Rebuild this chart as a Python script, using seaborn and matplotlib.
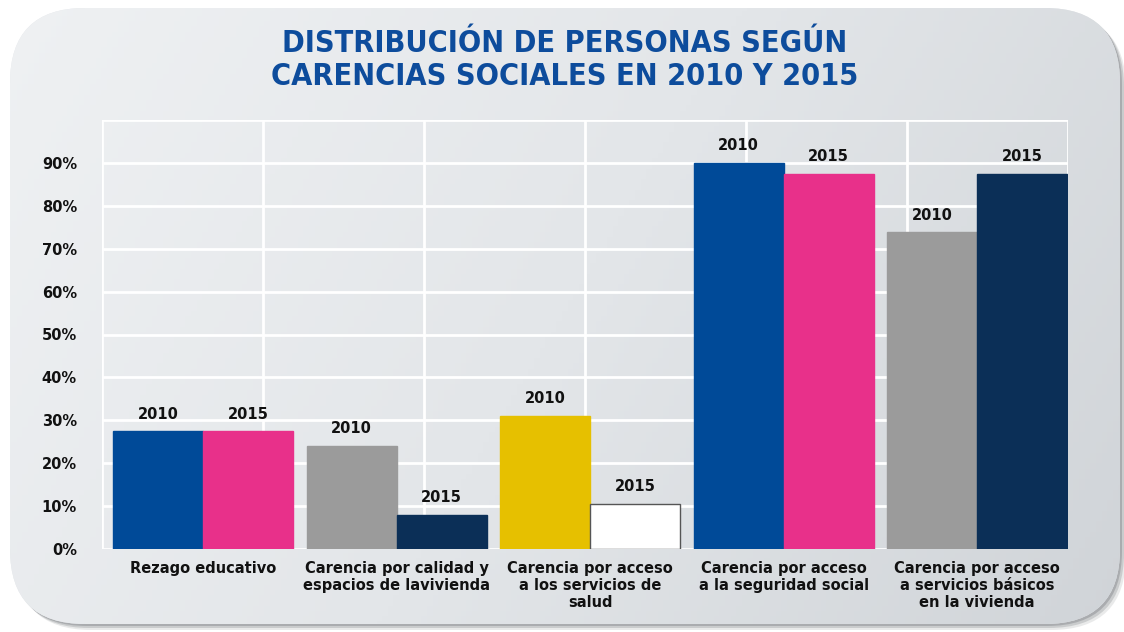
import numpy as np
import pandas as pd
import matplotlib.pyplot as plt
import seaborn as sns
from matplotlib.patches import FancyBboxPatch
from matplotlib.colors import LinearSegmentedColormap

# Data
categories = [
    "Rezago educativo",
    "Carencia por calidad y\nespacios de lavivienda",
    "Carencia por acceso\na los servicios de\nsalud",
    "Carencia por acceso\na la seguridad social",
    "Carencia por acceso\na servicios básicos\nen la vivienda",
]
years = ["2010", "2015"]
values_2010 = [27.4, 24.1, 31.1, 90.0, 73.8]
values_2015 = [27.4, 8.0, 10.5, 87.5, 87.5]
y_ticks = [0, 10, 20, 30, 40, 50, 60, 70, 80, 90, 100]
y_tick_labels = ["0%", "10%", "20%", "30%", "40%", "50%", "60%", "70%", "80%", "90%", ""]

# Bar colours (each bar has its own colour in the original)
colors_2010 = ["#004a98", "#9b9b9b", "#e6c000", "#004a98", "#9b9b9b"]
colors_2015 = ["#e8308a", "#0b2f57", "#ffffff", "#e8308a", "#0b2f57"]

df = pd.DataFrame({
    "categoria": categories * 2,
    "year": [years[0]] * len(categories) + [years[1]] * len(categories),
    "valor": values_2010 + values_2015,
})

W, H = 1124, 632
fig = plt.figure(figsize=(W / 100, H / 100), dpi=100)
fig.patch.set_facecolor("white")

# Rounded grey panel with a soft shadow
bg = fig.add_axes([0, 0, 1, 1], zorder=-1)
bg.set_xlim(0, W)
bg.set_ylim(H, 0)
bg.axis("off")
for off, a in [(6, 0.15), (4, 0.25), (2, 0.35)]:
    bg.add_patch(FancyBboxPatch((10 + off, 8 + off), 1110, 616,
                                boxstyle="round,pad=0,rounding_size=75",
                                fc="#6f7378", ec="none", alpha=a))
panel = FancyBboxPatch((10, 8), 1110, 616, boxstyle="round,pad=0,rounding_size=75",
                       fc="#e4e7ea", ec="none")
bg.add_patch(panel)
xx, yy = np.meshgrid(np.linspace(0, 1, 200), np.linspace(0, 1, 120))
grad = 0.75 * xx + 0.25 * yy
cmap = LinearSegmentedColormap.from_list("bg", ["#eff1f3", "#e3e6e9", "#d0d4d8"])
img = bg.imshow(grad, extent=[0, W, H, 0], cmap=cmap, aspect="auto", zorder=1)
img.set_clip_path(panel)

# Title
fig.text(0.502, 1 - 60 / H, "DISTRIBUCIÓN DE PERSONAS SEGÚN\nCARENCIAS SOCIALES EN 2010 Y 2015",
         ha="center", va="center", fontsize=22, fontweight="bold", color="#0d4c9c",
         linespacing=1.15, family="DejaVu Sans", fontstretch="condensed")

# Bars
ax = fig.add_axes([102 / W, 1 - 549 / H, (1068 - 102) / W, (549 - 120) / H])
sns.barplot(data=df, x="categoria", y="valor", hue="year", width=0.93,
            saturation=1, legend=False, ax=ax, zorder=3)

for container, cols, yr in zip(ax.containers, [colors_2010, colors_2015], years):
    for bar, c in zip(container, cols):
        bar.set_facecolor(c)
        bar.set_edgecolor("#555555" if c == "#ffffff" else c)
        bar.set_linewidth(1)
    ax.bar_label(container, labels=[yr] * len(cols), padding=7,
                 fontsize=10.5, fontweight="bold", color="#111111")

ax.set_xlim(-0.523, 4.47)
ax.set_ylim(0, 100)
ax.set_yticks(y_ticks)
ax.set_yticklabels(y_tick_labels, fontsize=10.5, fontweight="bold", color="#111111")
ax.set_xticks(range(len(categories)))
ax.set_xticklabels(categories, fontsize=10.5, fontweight="bold", color="#111111",
                   linespacing=1.15, va="top")
ax.set_xlabel("")
ax.set_ylabel("")

# White grid
ax.set_xticks(np.linspace(-0.523, 4.47, 7), minor=True)
ax.tick_params(axis="both", which="both", length=0)
ax.tick_params(axis="y", pad=18)
ax.tick_params(axis="x", pad=9)
ax.yaxis.grid(True, color="white", linewidth=2)
ax.xaxis.grid(True, which="minor", color="white", linewidth=2)
ax.xaxis.grid(False, which="major")
ax.set_axisbelow(True)
ax.set_facecolor("none")
for s in ax.spines.values():
    s.set_visible(False)

plt.savefig("out.png", dpi=100)
plt.close()
